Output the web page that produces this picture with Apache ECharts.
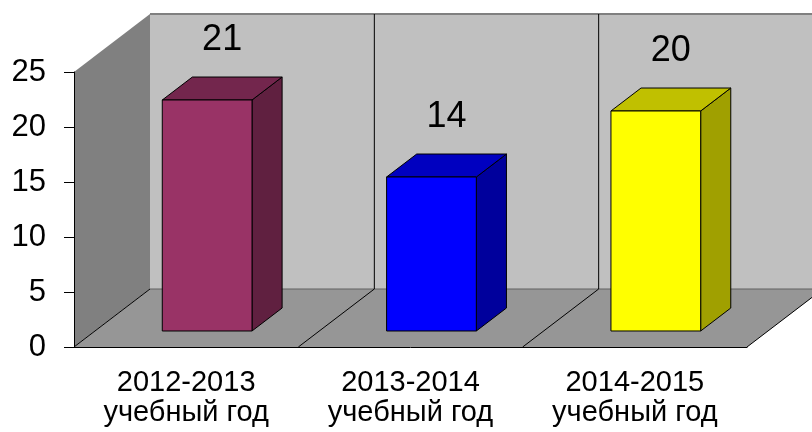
<!DOCTYPE html>
<html>
<head>
<meta charset="utf-8">
<script src="https://cdn.jsdelivr.net/npm/echarts@6/dist/echarts.min.js"></script>
<style>
  html, body { margin: 0; padding: 0; background: #fff; }
  #chart { width: 812px; height: 432px; }
</style>
</head>
<body>
<div id="chart"></div>
<script>
const categories = ["2012-2013\nучебный год", "2013-2014\nучебный год", "2014-2015\nучебный год"];
const values = [21, 14, 20];
const yTicks = [0, 5, 10, 15, 20, 25];

// 3d look
const DEPTH_X = 76;
const DEPTH_Y = -58;
const F1 = 0.276; // bar front, share of floor depth
const F2 = 0.672; // bar back
const BAR_W = 0.4;
const barColors = [
  { front: "#993366", top: "#73264d", side: "#602040" },
  { front: "#0000ff", top: "#0000c0", side: "#00009c" },
  { front: "#ffff00", top: "#c0c000", side: "#a0a000" }
];
const FONT = "'Liberation Sans', Arial, sans-serif";

const chart = echarts.init(document.getElementById("chart"));

function renderWalls(params, api) {
  const r = params.coordSys;
  const x0 = r.x, y0 = r.y, x1 = r.x + r.width, y1 = r.y + r.height;
  const dx = DEPTH_X, dy = DEPTH_Y;
  const children = [
    { type: "polygon", shape: { points: [[x0 + dx, y0 + dy], [x1 + dx, y0 + dy], [x1 + dx, y1 + dy], [x0 + dx, y1 + dy]] },
      style: { fill: "#c0c0c0", stroke: null } },
    { type: "polygon", shape: { points: [[x0, y0], [x0 + dx, y0 + dy], [x0 + dx, y1 + dy], [x0, y1]] },
      style: { fill: "#808080", stroke: null } },
    { type: "polygon", shape: { points: [[x0, y1], [x0 + dx, y1 + dy], [x1 + dx, y1 + dy], [x1, y1]] },
      style: { fill: "#969696", stroke: null } },
    { type: "line", shape: { x1: x0 + dx, y1: y0 + dy, x2: x1 + dx, y2: y0 + dy },
      style: { stroke: "#808080", lineWidth: 2 } },
    { type: "line", shape: { x1: x0 + dx, y1: y1 + dy, x2: x1 + dx, y2: y1 + dy },
      style: { stroke: "#606060", lineWidth: 1 } }
  ];
  const band = r.width / categories.length;
  for (let i = 0; i <= categories.length; i++) {
    const bx = x0 + band * i;
    children.push({ type: "line", shape: { x1: bx, y1: y1, x2: bx + dx, y2: y1 + dy },
      style: { stroke: "#000", lineWidth: 1 } });
    if (i > 0) {
      children.push({ type: "line", shape: { x1: bx + dx, y1: y0 + dy, x2: bx + dx, y2: y1 + dy },
        style: { stroke: "#000", lineWidth: 1 } });
    }
  }
  return { type: "group", children: children };
}

function renderBar(params, api) {
  const idx = api.value(0);
  const v = api.value(1);
  const top = api.coord([idx, v]);
  const base = api.coord([idx, 0]);
  const bw = api.size([1, 0])[0] * BAR_W;
  const c = barColors[idx];
  const fx = DEPTH_X * F1, fy = DEPTH_Y * F1;
  const ddx = DEPTH_X * (F2 - F1), ddy = DEPTH_Y * (F2 - F1);
  const l = top[0] - bw / 2 + fx, rr = top[0] + bw / 2 + fx;
  const t = top[1] + fy, b = base[1] + fy;
  const line = { stroke: "#000", lineWidth: 1 };
  return {
    type: "group",
    children: [
      { type: "polygon", shape: { points: [[rr, t], [rr + ddx, t + ddy], [rr + ddx, b + ddy], [rr, b]] },
        style: Object.assign({ fill: c.side }, line) },
      { type: "polygon", shape: { points: [[l, t], [l + ddx, t + ddy], [rr + ddx, t + ddy], [rr, t]] },
        style: Object.assign({ fill: c.top }, line) },
      { type: "rect", shape: { x: l, y: t, width: rr - l, height: b - t },
        style: Object.assign({ fill: c.front }, line) },
      { type: "text", x: (l + rr) / 2 + 15, y: t - 60,
        style: { text: String(v), fontSize: 36, fontFamily: FONT, fill: "#000",
          align: "center", verticalAlign: "middle" } }
    ]
  };
}

chart.setOption({
  animation: false,
  backgroundColor: "#fff",
  grid: { left: 74, right: 65, top: 72, bottom: 85, containLabel: false },
  xAxis: {
    type: "category",
    data: categories,
    z: 10,
    axisLine: { lineStyle: { color: "#000", width: 1 } },
    axisTick: { length: 8, lineStyle: { color: "#666" } },
    axisLabel: { fontSize: 29, fontFamily: FONT, color: "#000", lineHeight: 30, margin: 21 }
  },
  yAxis: {
    type: "value",
    min: yTicks[0],
    max: yTicks[yTicks.length - 1],
    interval: 5,
    z: 10,
    splitLine: { show: false },
    axisLine: { show: true, lineStyle: { color: "#000", width: 1 } },
    axisTick: { show: true, length: 10, lineStyle: { color: "#000" } },
    axisLabel: { fontSize: 31, fontFamily: FONT, color: "#000", margin: 28 }
  },
  series: [
    { type: "custom", name: "walls", z: 1, silent: true, clip: false,
      renderItem: renderWalls, data: [[0, 0]] },
    { type: "custom", name: "bars", z: 3, silent: true, clip: false,
      renderItem: renderBar, encode: { x: 0, y: 1 },
      data: values.map((v, i) => [i, v]) }
  ]
});
</script>
</body>
</html>
